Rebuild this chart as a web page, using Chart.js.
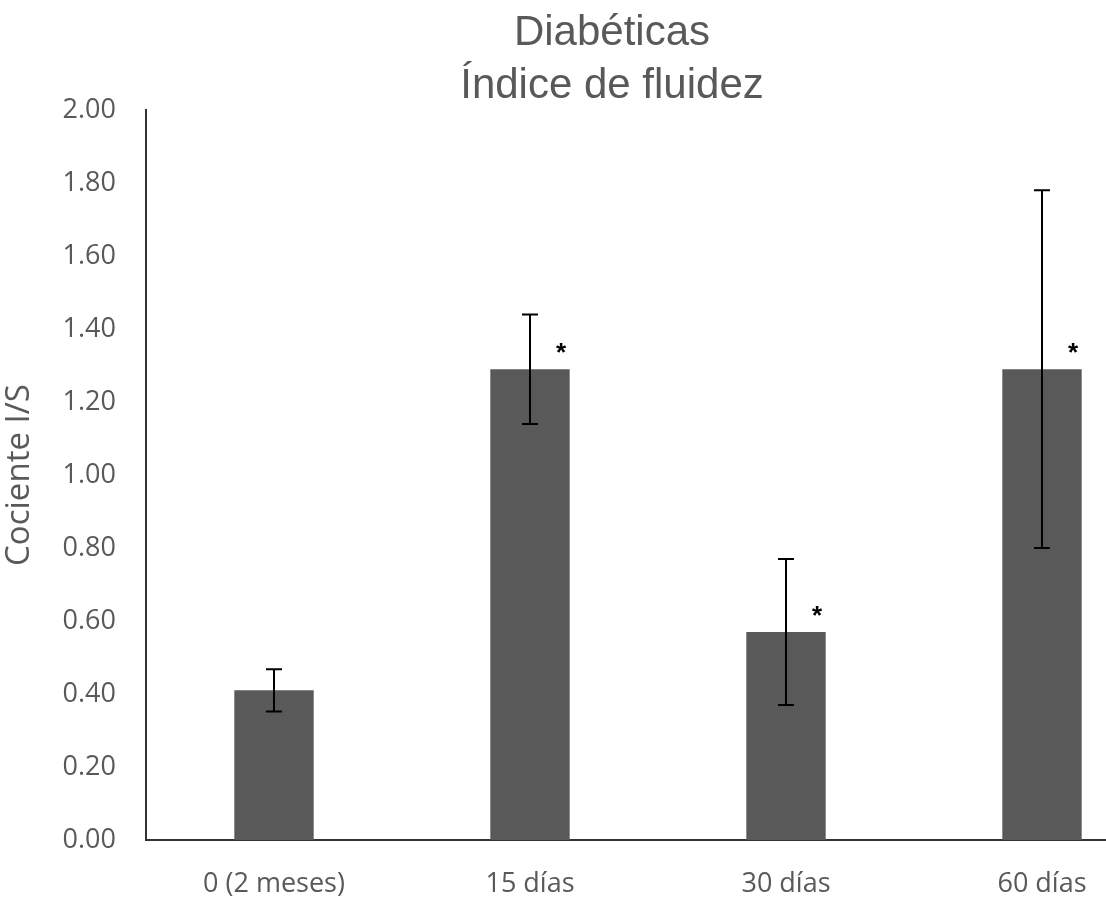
<!DOCTYPE html>
<html>
<head>
<meta charset="utf-8">
<script src="https://cdn.jsdelivr.net/npm/chart.js@4"></script>
<style>
  html, body { margin: 0; padding: 0; background: #fff; overflow: hidden; }
  #wrap { width: 1172px; height: 907px; }
</style>
</head>
<body>
<div id="wrap"><canvas id="chart1" width="1172" height="907"></canvas></div>
<script>
const categories = ["0 (2 meses)", "15 días", "30 días", "60 días"];
const values = [0.41, 1.29, 0.57, 1.29];
const errors = [0.058, 0.15, 0.20, 0.49];
const marks = ["", "*", "*", "*"];
const yTicks = [0, 0.2, 0.4, 0.6, 0.8, 1.0, 1.2, 1.4, 1.6, 1.8, 2.0];
const titleLines = ["Diabéticas", "Índice de fluidez"];

const grey = "#595959";
const tickFont = "'Open Sans', Lato, sans-serif";

// title drawn by hand so it can sit where the original has it
const titleText = {
    id: "titleText",
    afterDraw(chart) {
        const ctx = chart.ctx;
        ctx.save();
        ctx.fillStyle = grey;
        ctx.font = "42px 'Liberation Sans', Arial, sans-serif";
        ctx.textAlign = "center";
        ctx.textBaseline = "middle";
        titleLines.forEach(function (t, i) {
            ctx.fillText(t, 612, 33 + i * 53);
        });
        ctx.restore();
    }
};

const errorBars = {
    id: "errorBars",
    afterDatasetsDraw(chart) {
        const ctx = chart.ctx;
        const y = chart.scales.y;
        const meta = chart.getDatasetMeta(0);
        ctx.save();
        meta.data.forEach(function (bar, i) {
            const top = y.getPixelForValue(values[i] + errors[i]);
            const bot = y.getPixelForValue(values[i] - errors[i]);
            ctx.strokeStyle = "#000";
            ctx.lineWidth = 2;
            ctx.beginPath();
            ctx.moveTo(bar.x, top); ctx.lineTo(bar.x, bot);
            ctx.moveTo(bar.x - 8, top); ctx.lineTo(bar.x + 8, top);
            ctx.moveTo(bar.x - 8, bot); ctx.lineTo(bar.x + 8, bot);
            ctx.stroke();
            if (marks[i]) {
                ctx.fillStyle = "#000";
                ctx.font = "bold 26px 'Liberation Sans', sans-serif";
                ctx.textAlign = "center";
                ctx.textBaseline = "middle";
                ctx.fillText(marks[i], bar.x + 31, y.getPixelForValue(values[i]) - 15);
            }
        });
        ctx.restore();
    }
};

new Chart(document.getElementById("chart1"), {
    type: "bar",
    data: {
        labels: categories,
        datasets: [{
            data: values,
            backgroundColor: grey,
            borderWidth: 0,
            categoryPercentage: 1,
            barPercentage: 0.31
        }]
    },
    options: {
        responsive: false,
        animation: false,
        layout: { padding: { left: 0, right: 2, top: 110, bottom: 0 } },
        plugins: {
            legend: { display: false },
            tooltip: { enabled: false },
            title: { display: false }
        },
        scales: {
            x: {
                grid: { display: false, drawTicks: false },
                border: { color: "#333", width: 2 },
                ticks: {
                    color: grey,
                    padding: 28,
                    font: { family: tickFont, size: 27 }
                },
                afterFit: function (s) { s.height = 67; }
            },
            y: {
                min: 0,
                max: 2,
                grid: { display: false, drawTicks: false },
                border: { color: "#333", width: 2 },
                afterBuildTicks: function (s) { s.ticks = yTicks.map(function (v) { return { value: v }; }); },
                ticks: {
                    color: grey,
                    padding: 30,
                    font: { family: tickFont, size: 27 },
                    callback: function (v) { return Number(v).toFixed(2); }
                },
                title: {
                    display: true,
                    text: "Cociente I/S",
                    color: grey,
                    font: { family: tickFont, size: 33 },
                    padding: { top: 0, bottom: 0 }
                },
                afterFit: function (s) { s.width = 146; }
            }
        }
    },
    plugins: [errorBars, titleText]
});
</script>
</body>
</html>
